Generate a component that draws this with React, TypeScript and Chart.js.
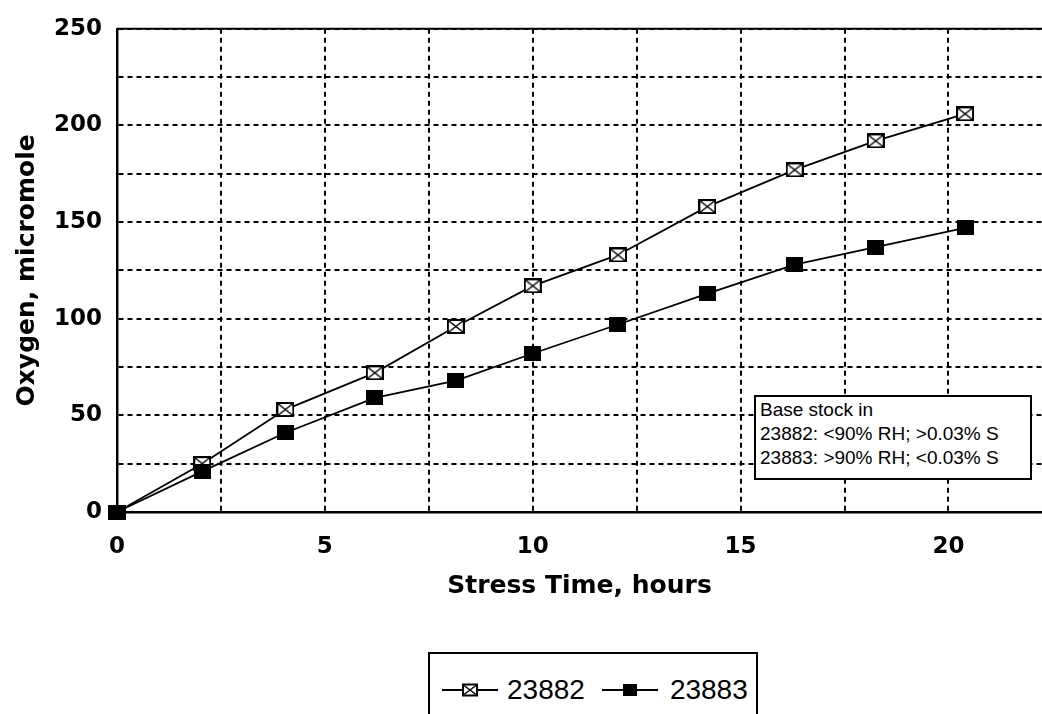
import React, { useEffect, useRef } from "react";
import { Chart, registerables } from "chart.js";

Chart.register(...registerables);

// ---- data ----
const timeHours = [0, 2.05, 4.05, 6.2, 8.15, 10.0, 12.05, 14.2, 16.3, 18.25, 20.4];
const o2Sample23882 = [0, 25, 53, 72, 96, 117, 133, 158, 177, 192, 206];
const o2Sample23883 = [0, 21, 41, 59, 68, 82, 97, 113, 128, 137, 147];
const seriesNames = ["23882", "23883"];
const xTitle = "Stress Time, hours";
const yTitle = "Oxygen, micromole";
const noteLines = ["Base stock in", "23882: <90% RH; >0.03% S", "23883: >90% RH; <0.03% S"];

const W = 1042;
const H = 714;

function makeMarker(w: number, h: number, filled: boolean): HTMLCanvasElement {
  const c = document.createElement("canvas");
  c.width = w;
  c.height = h;
  const g = c.getContext("2d")!;
  if (filled) {
    g.fillStyle = "#000";
    g.fillRect(0, 0, w, h);
  } else {
    g.fillStyle = "#fff";
    g.fillRect(0, 0, w, h);
    g.strokeStyle = "#000";
    g.lineWidth = 2;
    g.strokeRect(1, 1, w - 2, h - 2);
    g.lineWidth = 1.5;
    g.beginPath();
    g.moveTo(2, 2);
    g.lineTo(w - 2, h - 2);
    g.moveTo(w - 2, 2);
    g.lineTo(2, h - 2);
    g.stroke();
  }
  return c;
}

const topBorder = {
  id: "topBorder",
  afterDraw(chart: any) {
    const { ctx, chartArea } = chart;
    ctx.save();
    ctx.strokeStyle = "#000";
    ctx.lineWidth = 2;
    ctx.beginPath();
    ctx.moveTo(chartArea.left, chartArea.top);
    ctx.lineTo(chartArea.right, chartArea.top);
    ctx.stroke();
    ctx.restore();
  },
};

function LegendIcon({ filled }: { filled: boolean }) {
  return (
    <svg width="56" height="14" style={{ display: "inline-block", verticalAlign: "middle" }}>
      <line x1="0" y1="7" x2="56" y2="7" stroke="#000" strokeWidth="2" />
      {filled ? (
        <rect x="21" y="1" width="14" height="12" fill="#000" />
      ) : (
        <g>
          <rect x="21" y="1.5" width="14" height="11" fill="#fff" stroke="#000" strokeWidth="2" />
          <line x1="22" y1="2.5" x2="34" y2="11.5" stroke="#000" strokeWidth="1.5" />
          <line x1="34" y1="2.5" x2="22" y2="11.5" stroke="#000" strokeWidth="1.5" />
        </g>
      )}
    </svg>
  );
}

export default function App() {
  const ref = useRef<HTMLCanvasElement | null>(null);

  useEffect(() => {
    if (!ref.current) return;
    Chart.defaults.color = "#000";
    const open = makeMarker(18, 15, false);
    const solid = makeMarker(17, 15, true);
    const tickFont = { family: "'DejaVu Sans', sans-serif", size: 23, weight: "bold" as const };
    const titleFont = { family: "'DejaVu Sans', sans-serif", size: 25, weight: "bold" as const };

    const chart = new Chart(ref.current, {
      type: "line",
      data: {
        datasets: [
          {
            label: seriesNames[1],
            data: timeHours.map((t, i) => ({ x: t, y: o2Sample23883[i] })),
            borderColor: "#000",
            borderWidth: 1.8,
            pointStyle: solid as any,
            pointRadius: 8,
            clip: false as any,
            tension: 0,
          },
          {
            label: seriesNames[0],
            data: timeHours.map((t, i) => ({ x: t, y: o2Sample23882[i] })),
            borderColor: "#000",
            borderWidth: 1.8,
            pointStyle: open as any,
            pointRadius: 8,
            clip: false as any,
            tension: 0,
          },
        ],
      },
      options: {
        animation: false,
        responsive: false,
        maintainAspectRatio: false,
        layout: { autoPadding: false, padding: { top: 24, right: 0, left: 0, bottom: 0 } },
        plugins: { legend: { display: false }, tooltip: { enabled: false } },
        scales: {
          x: {
            type: "linear",
            min: 0,
            max: 22.25,
            afterFit: (s: any) => {
              s.height = 202;
              s.paddingRight = 0;
              s.paddingLeft = 0;
            },
            ticks: {
              stepSize: 2.5,
              includeBounds: false,
              autoSkip: false,
              maxRotation: 0,
              padding: 21,
              font: tickFont,
              color: "#000",
              callback: (v: any) => (Number(v) % 5 === 0 ? String(v) : ""),
            },
            grid: { color: "#000", lineWidth: 2, drawTicks: false },
            border: { display: true, color: "#000", width: 2.5, dash: [5, 4] },
            title: {
              display: true,
              text: xTitle,
              font: titleFont,
              color: "#000",
              padding: { top: 0, bottom: 113 },
            },
          },
          y: {
            type: "linear",
            min: 0,
            max: 250,
            afterFit: (s: any) => {
              s.width = 117;
            },
            ticks: {
              stepSize: 25,
              autoSkip: false,
              padding: 15,
              font: tickFont,
              color: "#000",
              callback: (v: any) => (Number(v) % 50 === 0 ? String(v) : ""),
            },
            grid: { color: "#000", lineWidth: 2, drawTicks: false },
            border: { display: true, color: "#000", width: 2.5, dash: [5, 4] },
            title: {
              display: true,
              text: yTitle,
              font: titleFont,
              color: "#000",
              padding: { top: 12, bottom: 0 },
            },
          },
        },
      },
      plugins: [topBorder],
    });
    return () => chart.destroy();
  }, []);

  return (
    <div style={{ position: "absolute", left: 0, top: 0, width: W, height: H, overflow: "hidden", background: "#fff" }}>
      <canvas ref={ref} width={W} height={H} style={{ position: "absolute", left: 0, top: 0, width: W, height: H }} />
      <div
        style={{
          position: "absolute",
          left: 754,
          top: 395,
          width: 278,
          height: 85,
          boxSizing: "border-box",
          border: "2px solid #000",
          background: "#fff",
          padding: "1px 0 0 4px",
          fontFamily: "'Liberation Sans', Arial, sans-serif",
          fontSize: 19,
          lineHeight: "24px",
          color: "#000",
          whiteSpace: "nowrap",
        }}
      >
        {noteLines.map((l, i) => (
          <div key={i}>{l}</div>
        ))}
      </div>
      <div
        style={{
          position: "absolute",
          left: 428,
          top: 652,
          width: 330,
          height: 90,
          boxSizing: "border-box",
          border: "2px solid #000",
          background: "#fff",
          fontFamily: "'Liberation Sans', Arial, sans-serif",
          fontSize: 28,
          color: "#000",
          whiteSpace: "nowrap",
        }}
      >
        <div style={{ position: "absolute", left: 12, top: 20, display: "flex", alignItems: "center" }}>
          <LegendIcon filled={false} />
          <span style={{ marginLeft: 9, marginRight: 17 }}>{seriesNames[0]}</span>
          <LegendIcon filled={true} />
          <span style={{ marginLeft: 12 }}>{seriesNames[1]}</span>
        </div>
      </div>
    </div>
  );
}
